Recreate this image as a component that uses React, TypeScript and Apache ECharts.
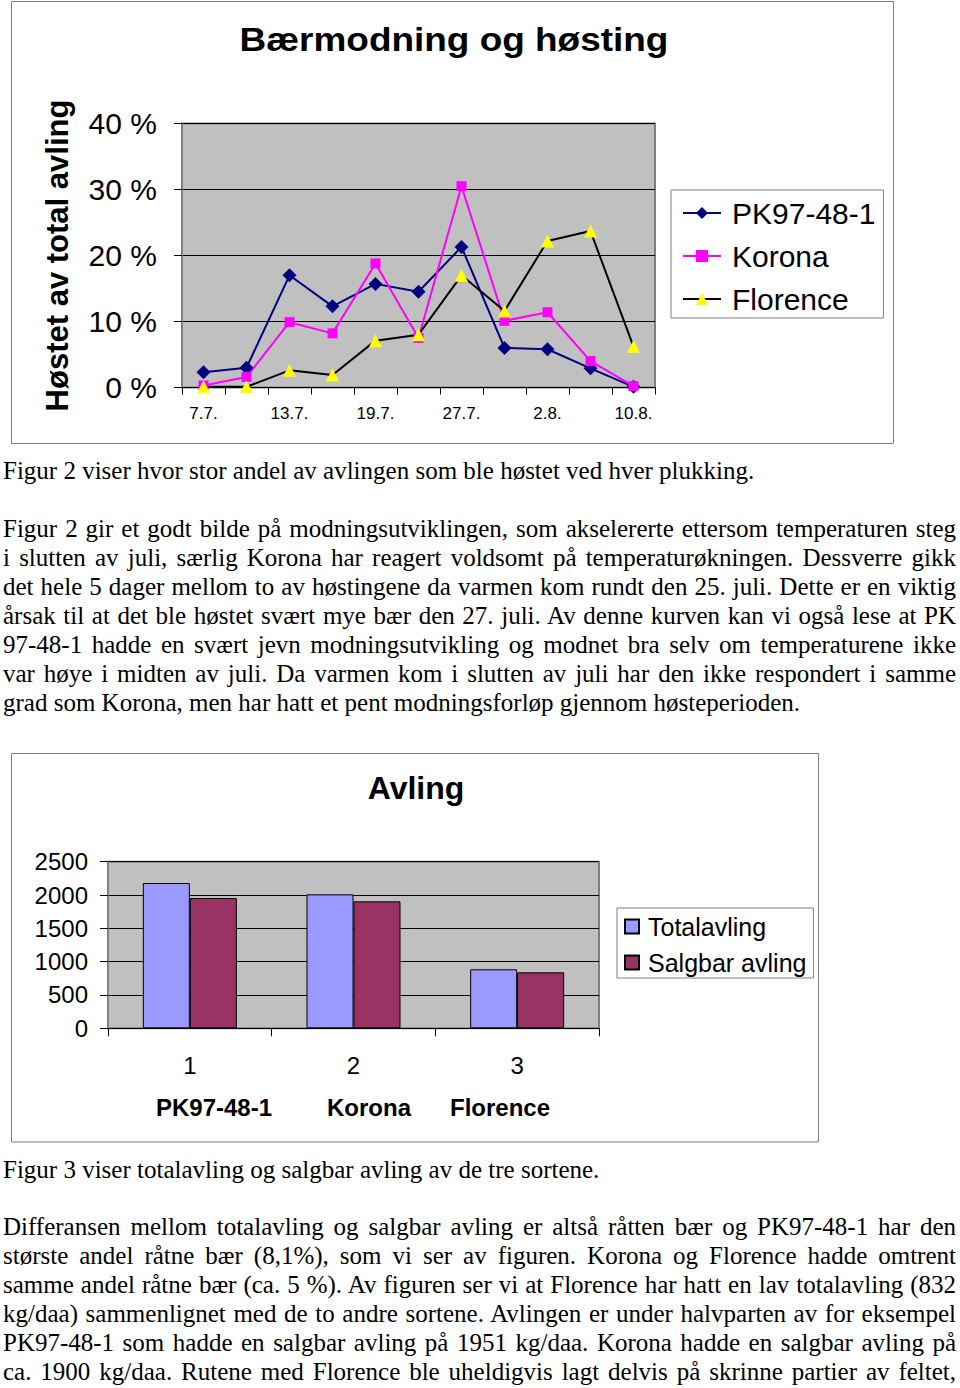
import React, { useEffect, useRef } from "react";
import * as echarts from "echarts";

// ---------- Figure 2: share of the crop harvested at each picking ----------
const harvestDates = ["7.7.", "10.7.", "13.7.", "16.7.", "19.7.", "23.7.", "27.7.", "30.7.", "2.8.", "6.8.", "10.8."];
const pkShare = [2.3, 3.0, 17.0, 12.3, 15.7, 14.5, 21.3, 6.0, 5.8, 2.9, 0.1];
const koronaShare = [0.3, 1.6, 9.9, 8.2, 18.8, 7.5, 30.5, 10.1, 11.4, 4.0, 0.2];
const florenceShare = [0.1, 0.1, 2.6, 1.9, 7.1, 8.0, 17.0, 11.6, 22.2, 23.7, 6.2];
const shareSeriesNames = ["PK97-48-1", "Korona", "Florence"];

// ---------- Figure 3: yield ----------
const yieldCategories = ["1", "2", "3"];
const varietyNames = ["PK97-48-1", "Korona", "Florence"];
const totalYield = [2180, 2010, 885];
const sellableYield = [1955, 1905, 840];
const yieldSeriesNames = ["Totalavling", "Salgbar avling"];

// ---------- Body text ----------
const caption2 = ["Figur 2 viser hvor stor andel av avlingen som ble høstet ved hver plukking."];
const para2 = [
  "Figur 2 gir et godt bilde på modningsutviklingen, som akselererte ettersom temperaturen steg",
  "i slutten av juli, særlig Korona har reagert voldsomt på temperaturøkningen. Dessverre gikk",
  "det hele 5 dager mellom to av høstingene da varmen kom rundt den 25. juli. Dette er en viktig",
  "årsak til at det ble høstet svært mye bær den 27. juli. Av denne kurven kan vi også lese at PK",
  "97-48-1 hadde en svært jevn modningsutvikling og modnet bra selv om temperaturene ikke",
  "var høye i midten av juli. Da varmen kom i slutten av juli har den ikke respondert i samme",
  "grad som Korona, men har hatt et pent modningsforløp gjennom høsteperioden.",
];
const caption3 = ["Figur 3 viser totalavling og salgbar avling av de tre sortene."];
const para3 = [
  "Differansen mellom totalavling og salgbar avling er altså råtten bær og PK97-48-1 har den",
  "største andel råtne bær (8,1%), som vi ser av figuren. Korona og Florence hadde omtrent",
  "samme andel råtne bær (ca. 5 %). Av figuren ser vi at Florence har hatt en lav totalavling (832",
  "kg/daa) sammenlignet med de to andre sortene. Avlingen er under halvparten av for eksempel",
  "PK97-48-1 som hadde en salgbar avling på 1951 kg/daa. Korona hadde en salgbar avling på",
  "ca. 1900 kg/daa. Rutene med Florence ble uheldigvis lagt delvis på skrinne partier av feltet,",
];

const SANS = '"Liberation Sans", Arial, sans-serif';
const SERIF = '"Liberation Serif", "Times New Roman", serif';

function EChart({ option, style }: { option: any; style: React.CSSProperties }) {
  const ref = useRef<HTMLDivElement>(null);
  useEffect(() => {
    const chart = echarts.init(ref.current!, null, { renderer: "svg" });
    chart.setOption(option);
    return () => chart.dispose();
  }, []);
  return <div ref={ref} style={style} />;
}

function Para({ lines, top, lastJustified }: { lines: string[]; top: number; lastJustified?: boolean }) {
  return (
    <div
      style={{
        position: "absolute",
        left: 3,
        top,
        width: 953,
        fontFamily: SERIF,
        fontSize: 25,
        lineHeight: "29px",
        color: "#000",
      }}
    >
      {lines.map((l, i) => {
        const justify = lines.length > 1 && (i < lines.length - 1 || !!lastJustified);
        return (
          <div
            key={i}
            style={{
              whiteSpace: "nowrap",
              height: 29,
              textAlign: justify ? "justify" : "left",
              textAlignLast: justify ? "justify" : "left",
            } as React.CSSProperties}
          >
            {l}
          </div>
        );
      })}
    </div>
  );
}

const shareColors = [
  { line: "#000080", item: "#000080", symbol: "diamond", size: 14 },
  { line: "#FF00FF", item: "#FF00FF", symbol: "rect", size: 10 },
  { line: "#000000", item: "#FFFF00", symbol: "triangle", size: 13 },
];
const shareData = [pkShare, koronaShare, florenceShare];

const option1 = {
  animation: false,
  backgroundColor: "#ffffff",
  textStyle: { fontFamily: SANS },
  graphic: [
    {
      type: "rect",
      silent: true,
      shape: { x: 11.5, y: 1.5, width: 882, height: 442 },
      style: { fill: "none", stroke: "#808080", lineWidth: 1 },
    },
    {
      type: "text",
      x: 454,
      y: 39,
      scaleX: 1.12,
      style: {
        text: "Bærmodning og høsting",
        fontFamily: SANS,
        fontSize: 33,
        fontWeight: "bold",
        fill: "#000",
        textAlign: "center",
        textVerticalAlign: "middle",
      },
    },
  ],
  grid: {
    left: 182,
    top: 123.5,
    width: 473,
    height: 264,
    show: true,
    backgroundColor: "#C0C0C0",
    borderColor: "#808080",
    borderWidth: 2,
  },
  legend: {
    orient: "vertical",
    left: 671,
    top: 190,
    padding: [8, 8, 4, 11],
    itemGap: 13,
    itemWidth: 38,
    itemHeight: 15,
    backgroundColor: "#ffffff",
    borderColor: "#808080",
    borderWidth: 1,
    selectedMode: false,
    textStyle: { fontFamily: SANS, fontSize: 30, color: "#000", padding: [0, 0, 0, 6] },
    data: shareSeriesNames,
  },
  xAxis: {
    type: "category",
    data: harvestDates,
    boundaryGap: true,
    axisLine: { show: true, lineStyle: { color: "#000", width: 1 } },
    axisTick: { show: true, interval: 0, length: 7, lineStyle: { color: "#000" } },
    axisLabel: { interval: 1, fontSize: 17, color: "#000", margin: 17, fontFamily: SANS },
    splitLine: { show: false },
  },
  yAxis: {
    type: "value",
    min: 0,
    max: 40,
    interval: 10,
    name: "Høstet av total avling",
    nameLocation: "middle",
    nameGap: 109,
    nameTextStyle: { fontSize: 31, fontWeight: "bold", color: "#000", fontFamily: SANS },
    axisLine: { show: true, lineStyle: { color: "#808080", width: 2 } },
    axisTick: { show: true, length: 8, lineStyle: { color: "#000" } },
    axisLabel: {
      fontSize: 30,
      color: "#000",
      margin: 25,
      fontFamily: SANS,
      formatter: (v: number) => `${v} %`,
    },
    splitLine: { show: true, lineStyle: { color: "#000", width: 1 } },
  },
  series: shareSeriesNames.map((name, i) => ({
    name,
    type: "line",
    data: shareData[i],
    symbol: shareColors[i].symbol,
    symbolSize: shareColors[i].size,
    showAllSymbol: true,
    lineStyle: { color: shareColors[i].line, width: 2 },
    itemStyle: { color: shareColors[i].item },
  })),
};

const varietyLabelX = [214, 369, 500];
const option2 = {
  animation: false,
  backgroundColor: "#ffffff",
  textStyle: { fontFamily: SANS },
  graphic: [
    {
      type: "rect",
      silent: true,
      shape: { x: 11.5, y: 3.5, width: 807, height: 388.5 },
      style: { fill: "none", stroke: "#808080", lineWidth: 1 },
    },
    {
      type: "text",
      x: 416,
      y: 38,
      style: {
        text: "Avling",
        fontFamily: SANS,
        fontSize: 32,
        fontWeight: "bold",
        fill: "#000",
        textAlign: "center",
        textVerticalAlign: "middle",
      },
    },
    ...varietyNames.map((n, i) => ({
      type: "text",
      x: varietyLabelX[i],
      y: 357.5,
      style: {
        text: n,
        fontFamily: SANS,
        fontSize: 24,
        fontWeight: "bold",
        fill: "#000",
        textAlign: "center",
        textVerticalAlign: "middle",
      },
    })),
  ],
  grid: {
    left: 108,
    top: 111.7,
    width: 491,
    height: 166.6,
    show: true,
    backgroundColor: "#C0C0C0",
    borderColor: "#808080",
    borderWidth: 2,
  },
  legend: {
    orient: "vertical",
    left: 617,
    top: 158,
    padding: [6, 7, 3, 7],
    itemGap: 11,
    itemWidth: 14,
    itemHeight: 14,
    icon: "rect",
    backgroundColor: "#ffffff",
    borderColor: "#808080",
    borderWidth: 1,
    selectedMode: false,
    textStyle: { fontFamily: SANS, fontSize: 25, color: "#000", padding: [0, 0, 0, 4] },
    data: yieldSeriesNames,
  },
  xAxis: {
    type: "category",
    data: yieldCategories,
    axisLine: { show: true, lineStyle: { color: "#000", width: 1 } },
    axisTick: { show: true, length: 8, lineStyle: { color: "#000" } },
    axisLabel: { fontSize: 24, color: "#000", margin: 25, fontFamily: SANS },
    splitLine: { show: false },
  },
  yAxis: {
    type: "value",
    min: 0,
    max: 2500,
    interval: 500,
    axisLine: { show: true, lineStyle: { color: "#808080", width: 2 } },
    axisTick: { show: true, length: 8, lineStyle: { color: "#000" } },
    axisLabel: {
      fontSize: 24,
      color: "#000",
      margin: 20,
      fontFamily: SANS,
      formatter: (v: number) => String(v),
    },
    splitLine: { show: true, lineStyle: { color: "#000", width: 1 } },
  },
  series: [
    {
      name: yieldSeriesNames[0],
      type: "bar",
      data: totalYield,
      barWidth: 47,
      barGap: "0%",
      itemStyle: { color: "#9999FF", borderColor: "#000", borderWidth: 1 },
    },
    {
      name: yieldSeriesNames[1],
      type: "bar",
      data: sellableYield,
      barWidth: 47,
      barGap: "0%",
      itemStyle: { color: "#993366", borderColor: "#000", borderWidth: 1 },
    },
  ],
};

export default function App() {
  return (
    <div
      style={{
        position: "absolute",
        left: 0,
        top: 0,
        width: 960,
        height: 1388,
        background: "#fff",
        overflow: "hidden",
      }}
    >
      <EChart option={option1} style={{ position: "absolute", left: 0, top: 0, width: 960, height: 450 }} />
      <Para lines={caption2} top={456} />
      <Para lines={para2} top={514} />
      <EChart option={option2} style={{ position: "absolute", left: 0, top: 750, width: 960, height: 400 }} />
      <Para lines={caption3} top={1155} />
      <Para lines={para3} top={1212} lastJustified />
    </div>
  );
}
